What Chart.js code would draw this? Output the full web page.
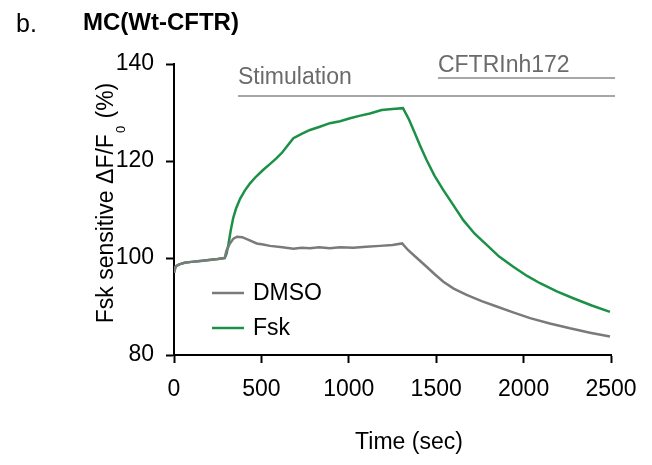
<!DOCTYPE html>
<html>
<head>
<meta charset="utf-8">
<script src="https://cdn.jsdelivr.net/npm/chart.js@4"></script>
<style>
  html, body { margin: 0; padding: 0; background: #fff; }
</style>
</head>
<body>
<canvas id="graficoFsk" width="652" height="465"></canvas>
<script>
// datos (tiempo en seg, valor en %)
const tiempoDmso = [0, 10, 30, 60, 100, 150, 200, 250, 290, 300, 320, 340, 360, 390, 430, 473, 510, 549, 620, 683, 730, 778, 830, 892, 950, 1026, 1100, 1178, 1250, 1305, 1340, 1380, 1445, 1490, 1541, 1600, 1674, 1760, 1846, 1940, 2037, 2150, 2265, 2380, 2494];
const valorDmso  = [97.0, 98.3, 98.7, 99.0, 99.2, 99.4, 99.6, 99.8, 100.0, 101.5, 103.0, 104.0, 104.4, 104.3, 103.7, 103.0, 102.8, 102.5, 102.2, 101.9, 102.1, 102.0, 102.2, 102.0, 102.2, 102.1, 102.3, 102.5, 102.7, 103.0, 101.6, 100.3, 98.2, 96.7, 95.1, 93.7, 92.4, 91.1, 90.0, 88.8, 87.6, 86.5, 85.5, 84.6, 83.8];

const tiempoFsk = [0, 10, 30, 60, 100, 150, 200, 250, 290, 300, 310, 316, 325, 339, 355, 378, 405, 435, 470, 511, 550, 587, 620, 650, 683, 730, 778, 830, 892, 950, 1007, 1060, 1121, 1188, 1250, 1310, 1345, 1378, 1410, 1445, 1490, 1541, 1600, 1655, 1720, 1789, 1860, 1941, 2020, 2094, 2190, 2284, 2390, 2494];
const valorFsk  = [97.0, 98.3, 98.7, 99.0, 99.2, 99.4, 99.6, 99.8, 100.0, 100.8, 102.5, 103.8, 105.8, 108.3, 110.2, 112.2, 113.9, 115.4, 116.8, 118.2, 119.4, 120.6, 121.8, 123.2, 124.7, 125.6, 126.4, 127.0, 127.8, 128.2, 128.8, 129.3, 129.8, 130.5, 130.7, 130.9, 128.5, 125.7, 123.0, 120.2, 117.0, 114.0, 110.8, 107.8, 105.0, 102.7, 100.3, 98.2, 96.3, 94.8, 93.1, 91.7, 90.2, 88.9];

const series = ['DMSO', 'Fsk'];
const xTicks = [0, 500, 1000, 1500, 2000, 2500];
const yTicks = [80, 100, 120, 140];

// barras de tratamiento
const anotTexto  = ['Stimulation', 'CFTRInh172'];
const anotDesde  = [366, 1510];
const anotHasta  = [2523, 2523];
const anotNivel  = [133.4, 137.1];
const anotNivelTexto = [135.9, 138.4];

const colores = ['#7a7a7a', '#1b9147'];
const fuente = "'Liberation Sans', Arial, sans-serif";

const textos = {
    id: 'textos',
    afterDraw(chart) {
        const c = chart.ctx;
        const xs = chart.scales.x, ys = chart.scales.y;
        const area = chart.chartArea;
        c.save();

        // letra y titulo
        c.fillStyle = '#000';
        c.textBaseline = 'alphabetic';
        c.textAlign = 'left';
        c.font = '25px ' + fuente;
        c.fillText('b.', 16, 32);
        c.font = 'bold 24px ' + fuente;
        c.fillText('MC(Wt-CFTR)', 83, 30);

        // titulo eje x
        c.font = '23px ' + fuente;
        c.textAlign = 'center';
        c.fillText('Time (sec)', 409, 449);

        // titulo eje y con subindice
        const p1 = 'Fsk sensitive \u0394F/F', sub = '0', p2 = ' (%)';
        c.font = '23px ' + fuente;
        const w1 = c.measureText(p1).width, w2 = c.measureText(p2).width;
        c.font = '13px ' + fuente;
        const ws = c.measureText(sub).width + 2;
        const total = w1 + ws + w2;
        c.translate(113, 203);
        c.rotate(-Math.PI / 2);
        c.textAlign = 'left';
        let x0 = -total / 2;
        c.font = '23px ' + fuente;
        c.fillText(p1, x0, 0);
        c.font = '13px ' + fuente;
        c.fillText(sub, x0 + w1 + 1, 12);
        c.font = '23px ' + fuente;
        c.fillText(p2, x0 + w1 + ws, 0);
        c.setTransform(1, 0, 0, 1, 0, 0);

        // anotaciones
        c.strokeStyle = '#8a8a8a';
        c.lineWidth = 1.5;
        c.fillStyle = '#6b6b6b';
        c.font = '23px ' + fuente;
        c.textAlign = 'left';
        anotTexto.forEach((t, i) => {
            const a = xs.getPixelForValue(anotDesde[i]);
            const b = xs.getPixelForValue(anotHasta[i]);
            const y = ys.getPixelForValue(anotNivel[i]);
            c.beginPath();
            c.moveTo(a, y);
            c.lineTo(b, y);
            c.stroke();
            c.fillText(t, a, ys.getPixelForValue(anotNivelTexto[i]));
        });

        // leyenda
        c.lineWidth = 2.5;
        c.fillStyle = '#000';
        c.textBaseline = 'middle';
        series.forEach((s, i) => {
            const y = area.top + 229 + i * 35;
            c.strokeStyle = colores[i];
            c.beginPath();
            c.moveTo(area.left + 38, y);
            c.lineTo(area.left + 70, y);
            c.stroke();
            c.fillText(s, area.left + 79, y + 1);
        });
        c.restore();
    }
};

const ctx = document.getElementById('graficoFsk').getContext('2d');

new Chart(ctx, {
    type: 'line',
    data: {
        datasets: [{
            label: series[0],
            data: tiempoDmso.map((t, i) => ({ x: t, y: valorDmso[i] })),
            borderColor: colores[0],
            borderWidth: 2.5
        }, {
            label: series[1],
            data: tiempoFsk.map((t, i) => ({ x: t, y: valorFsk[i] })),
            borderColor: colores[1],
            borderWidth: 2.5
        }]
    },
    options: {
        responsive: false,
        animation: false,
        layout: { padding: { top: 64, right: 41, left: 0, bottom: 0 } },
        elements: { point: { radius: 0 }, line: { tension: 0 } },
        plugins: {
            legend: { display: false },
            tooltip: { enabled: false }
        },
        scales: {
            x: {
                type: 'linear',
                min: 0,
                max: 2500,
                afterFit: s => { s.height = 110; },
                afterBuildTicks: s => { s.ticks = xTicks.map(v => ({ value: v })); },
                grid: { drawOnChartArea: false, tickLength: 8, tickWidth: 2, tickColor: '#000' },
                border: { color: '#000', width: 2 },
                ticks: {
                    color: '#000',
                    font: { family: fuente, size: 23 },
                    padding: 13,
                    maxRotation: 0,
                    callback: value => String(value)
                }
            },
            y: {
                min: 80,
                max: 140,
                afterFit: s => { s.width = 174; },
                afterBuildTicks: s => { s.ticks = yTicks.map(v => ({ value: v })); },
                grid: { drawOnChartArea: false, tickLength: 8, tickWidth: 2, tickColor: '#000' },
                border: { color: '#000', width: 2 },
                ticks: { color: '#000', font: { family: fuente, size: 23 }, padding: 12 }
            }
        }
    },
    plugins: [textos]
});
</script>
</body>
</html>
